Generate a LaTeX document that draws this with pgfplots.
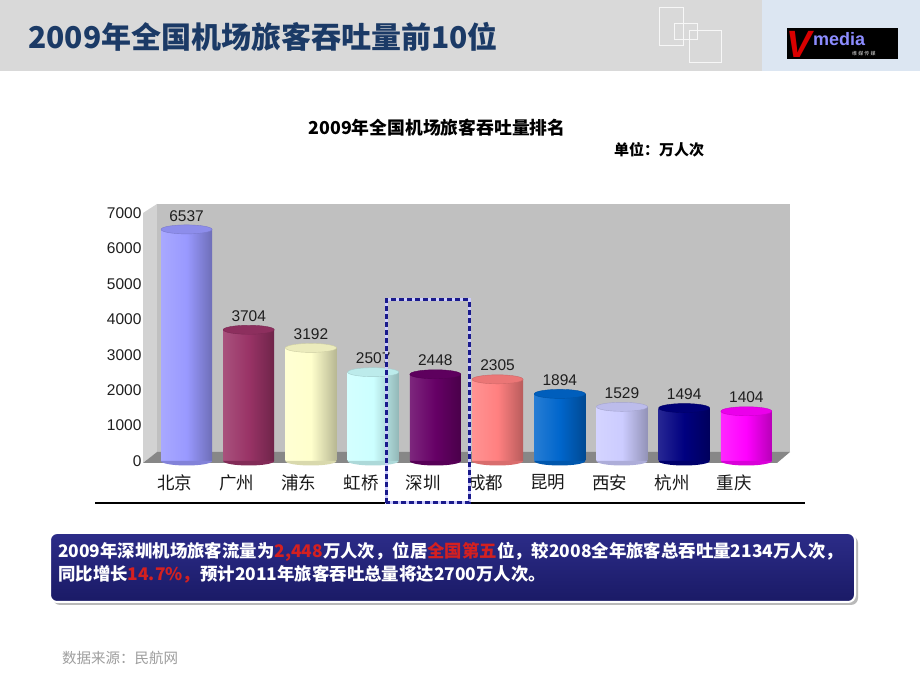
\documentclass[border=0pt]{standalone}
\usepackage{pgfplots}
\pgfplotsset{compat=1.18}
\usepackage{fontspec}
\setmainfont{Liberation Sans}
\newfontfamily\cjk{Noto Sans CJK SC}
\definecolor{hdrgray}{HTML}{D9D9D9}
\definecolor{hdrblue}{HTML}{DCE6F2}
\definecolor{titleblue}{HTML}{1B3A66}
\definecolor{wallback}{HTML}{C0C0C0}
\definecolor{wallside}{HTML}{D2D2D2}
\definecolor{wallfloor}{HTML}{878787}
\definecolor{boxtop}{HTML}{2C2C88}
\definecolor{boxbot}{HTML}{1A1A66}
\definecolor{boxred}{HTML}{D42020}
\definecolor{dashblue}{HTML}{1A1A8C}
\definecolor{ca}{HTML}{9999FF}
\definecolor{cb}{HTML}{993366}
\definecolor{cc}{HTML}{FFFFCC}
\definecolor{cd}{HTML}{CCFFFF}
\definecolor{ce}{HTML}{660066}
\definecolor{cf}{HTML}{FF8080}
\definecolor{cg}{HTML}{0066CC}
\definecolor{ch}{HTML}{CCCCFF}
\definecolor{ci}{HTML}{000080}
\definecolor{cj}{HTML}{FF00FF}
\pgfdeclareplotmark{ellip}{\pgfpathellipse{\pgfpointorigin}{\pgfqpoint{25.5pt}{0pt}}{\pgfqpoint{0pt}{4.5pt}}\pgfusepathqfillstroke}
\pgfdeclareplotmark{halfellip}{\pgfpathmoveto{\pgfqpoint{-25.5pt}{0pt}}\pgfpatharc{180}{360}{25.5pt and 4.5pt}\pgfpathclose\pgfusepathqfill}
\pgfplotsset{
  cylbar/.style={ybar, bar width=51pt, bar shift=0pt, draw=none,
    left color=#1!85!white, right color=#1!72!black, middle color=#1},
  cylbot/.style={only marks, mark=halfellip, mark options={fill=#1!85!black, draw=none}},
  cyltop/.style={only marks, mark=ellip, mark options={fill=#1!92!black, draw=#1!80!black, line width=0.4pt},
    nodes near coords, nodes near coords style={font=\fontsize{15.5}{18}\selectfont, text=black!88, yshift=5pt, inner sep=3pt},
    point meta=explicit symbolic},
}
\begin{document}
\begin{tikzpicture}[x=1pt,y=1pt]
\useasboundingbox (0,0) rectangle (920,690);
\fill[white] (0,0) rectangle (920,690);
% header
\fill[hdrgray] (0,619) rectangle (762,690);
\fill[hdrblue] (762,619) rectangle (920,690);
\draw[white!94!gray, line width=0.8pt] (659,645) rectangle (683,683);
\draw[white!94!gray, line width=0.8pt] (674,651) rectangle (697,667);
\draw[white!94!gray, line width=0.8pt] (689,628) rectangle (721,660);
% logo
\fill[black] (787,631) rectangle (898,662);
\node[anchor=base west, inner sep=0, text=red!85!black, font=\bfseries\itshape\fontsize{38}{38}\selectfont] at (786,632) {V};
\node[anchor=base west, inner sep=0, text=blue!45!white, font=\bfseries\fontsize{18}{18}\selectfont] at (813,644) {media};
\node[anchor=base west, inner sep=0, text=white!85!black, font=\cjk\fontsize{5}{5}\selectfont] at (852,634) {维 媒 传 媒};
\node[anchor=base west, inner sep=0, text=titleblue, font=\cjk\bfseries\fontsize{30}{36}\selectfont] at (28,641) {2009年全国机场旅客吞吐量前10位};
% chart titles
\node[anchor=base, inner sep=0, text=black, font=\cjk\bfseries\fontsize{17.8}{22}\selectfont] at (437,555) {2009年全国机场旅客吞吐量排名};
\node[anchor=base west, inner sep=0, text=black, font=\cjk\bfseries\fontsize{15}{18}\selectfont] at (614,534) {单位：万人次};
% 3D walls
\fill[wallside] (143,477) -- (157,486) -- (157,238) -- (143,227) -- cycle;
\fill[wallback] (157,238) rectangle (790,486);
\fill[wallfloor] (143,227) -- (777,227) -- (790,238) -- (157,238) -- cycle;
\begin{axis}[
  at={(143pt,229pt)}, anchor=south west,
  scale only axis, width=646.9pt, height=257pt,
  xmin=-0.7, xmax=9.7, ymin=0, ymax=7254,
  clip=false,
  axis line style={draw=none},
  major tick length=0pt,
  ytick={0,1000,2000,3000,4000,5000,6000,7000},
  scaled y ticks=false,
  /pgf/number format/1000 sep={},
  /pgf/number format/assume math mode=true,
  yticklabel style={font=\fontsize{15.5}{18}\selectfont, text=black!88, xshift=2pt},
  xtick={0,1,2,3,4,5,6,7,8,9},
  xticklabels={北京,广州,浦东,虹桥,深圳,成都,昆明,西安,杭州,重庆},
  xticklabel style={font=\cjk\fontsize{17.5}{20}\selectfont, text=black!90, xshift=-12pt, yshift=-10pt},
]
\addplot[cylbot=ca] coordinates {(0,0)};
\addplot[cylbar=ca] coordinates {(0,6537)};
\addplot[cyltop=ca] coordinates {(0,6537)[6537]};
\addplot[cylbot=cb] coordinates {(1,0)};
\addplot[cylbar=cb] coordinates {(1,3704)};
\addplot[cyltop=cb] coordinates {(1,3704)[3704]};
\addplot[cylbot=cc] coordinates {(2,0)};
\addplot[cylbar=cc] coordinates {(2,3192)};
\addplot[cyltop=cc] coordinates {(2,3192)[3192]};
\addplot[cylbot=cd] coordinates {(3,0)};
\addplot[cylbar=cd] coordinates {(3,2507)};
\addplot[cyltop=cd] coordinates {(3,2507)[2507]};
\addplot[cylbot=ce] coordinates {(4,0)};
\addplot[cylbar=ce] coordinates {(4,2448)};
\addplot[cyltop=ce] coordinates {(4,2448)[2448]};
\addplot[cylbot=cf] coordinates {(5,0)};
\addplot[cylbar=cf] coordinates {(5,2305)};
\addplot[cyltop=cf] coordinates {(5,2305)[2305]};
\addplot[cylbot=cg] coordinates {(6,0)};
\addplot[cylbar=cg] coordinates {(6,1894)};
\addplot[cyltop=cg] coordinates {(6,1894)[1894]};
\addplot[cylbot=ch] coordinates {(7,0)};
\addplot[cylbar=ch] coordinates {(7,1529)};
\addplot[cyltop=ch] coordinates {(7,1529)[1529]};
\addplot[cylbot=ci] coordinates {(8,0)};
\addplot[cylbar=ci] coordinates {(8,1494)};
\addplot[cyltop=ci] coordinates {(8,1494)[1494]};
\addplot[cylbot=cj] coordinates {(9,0)};
\addplot[cylbar=cj] coordinates {(9,1404)};
\addplot[cyltop=cj] coordinates {(9,1404)[1404]};
\end{axis}
% highlight box and rule
\draw[line width=2.5pt] (95,187) -- (805,187);
\draw[white!80!blue, line width=3pt] (386,187) rectangle (469,390);
\draw[dashblue, line width=3pt, dash pattern=on 5pt off 3pt] (386,187) rectangle (469,390);
% text box
\fill[gray!55, rounded corners=7pt] (53,85) rectangle (858,154);
\shade[top color=boxtop, bottom color=boxbot, rounded corners=7pt, draw=white, line width=2pt] (50,88) rectangle (855,157);
\node[anchor=base west, inner sep=0, text=white, font=\cjk\bfseries\fontsize{17.4}{20}\selectfont] at (58,132)
  {2009年深圳机场旅客流量为\textcolor{boxred}{2,448}万人次，位居\textcolor{boxred}{全国第五}位，较2008全年旅客总吞吐量2134万人次，};
\node[anchor=base west, inner sep=0, text=white, font=\cjk\bfseries\fontsize{17.4}{20}\selectfont] at (58,109)
  {同比增长\textcolor{boxred}{14.7\%，}预计2011年旅客吞吐总量将达2700万人次。};
\node[anchor=base west, inner sep=0, text=black!38, font=\cjk\fontsize{14.5}{17}\selectfont] at (62,27) {数据来源：民航网};
\end{tikzpicture}
\end{document}
